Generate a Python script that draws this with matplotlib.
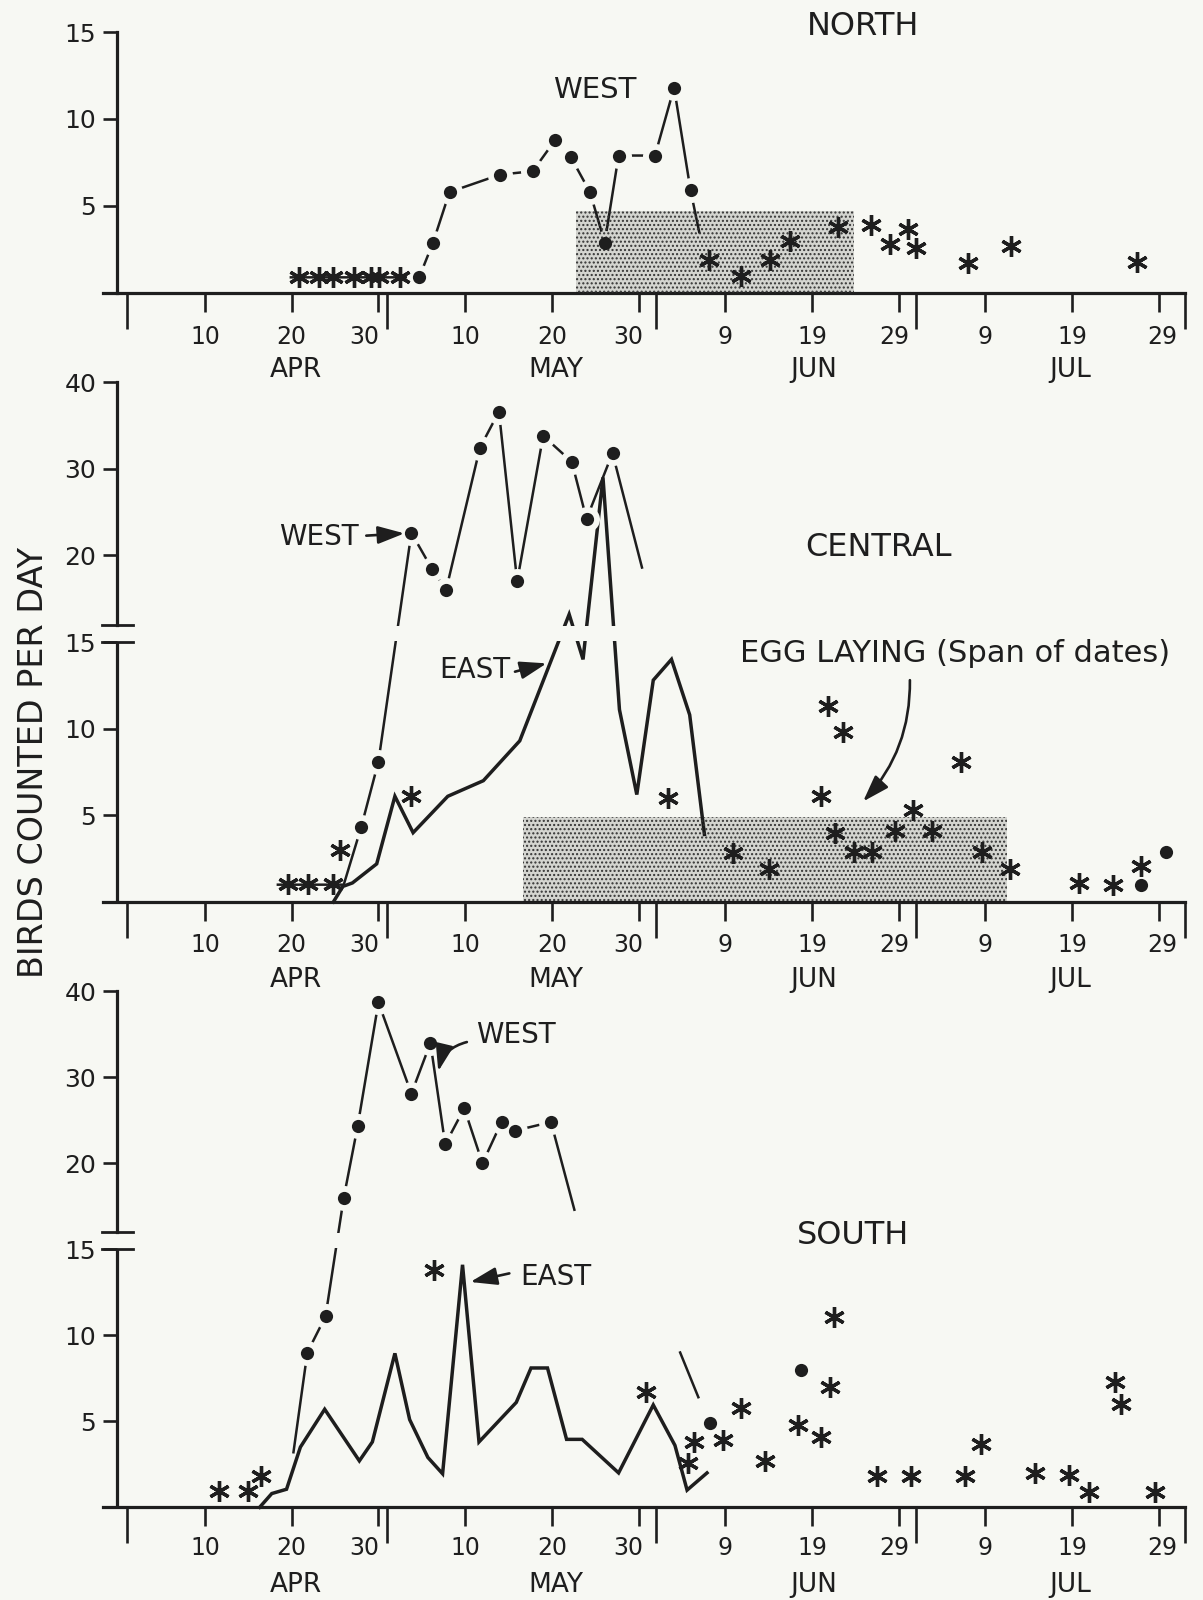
import numpy as np
import matplotlib.pyplot as plt

# day number on the x axis: Apr 1 = 1, May 1 = 31, Jun 1 = 62, Jul 1 = 92, Aug 1 = 123

#---------NORTH----------#
north_west_day = [19.9, 34.7, 36.3, 38.2, 44.0, 47.8, 50.4, 52.2, 54.4, 56.1, 57.7, 61.9, 64.1, 66.0, 67.0]
north_west_val = [0.9, 0.9, 2.9, 5.8, 6.8, 7.0, 8.8, 7.8, 5.8, 2.9, 7.9, 7.9, 11.8, 5.9, 3.5]
north_west_dot = [0, 1, 1, 1, 1, 1, 1, 1, 1, 1, 1, 1, 1, 1, 0]
north_star_day = [20.8, 23.1, 24.8, 27.2, 29.1, 30.1, 32.5, 68.1, 71.8, 75.2, 77.5, 83.0,
                  86.8, 89.0, 91.1, 92.0, 98.0, 103.0, 117.5]
north_star_val = [0.9, 0.9, 0.9, 0.9, 0.9, 0.9, 0.9, 1.9, 1.0, 1.9, 3.0, 3.8,
                  3.9, 2.8, 3.7, 2.6, 1.7, 2.7, 1.8]
north_egg = (52.8, 84.9, 4.7)   # first day, last day, top

#---------CENTRAL----------#
central_west_day = [18.4, 26.0, 28.0, 30.0, 33.8, 36.2, 37.8, 41.7, 43.9, 46.0, 49.0, 52.3, 54.0, 57.0, 60.4]
central_west_val = [1.0, 1.0, 4.3, 8.1, 22.6, 19.2, 18.0, 32.4, 36.6, 18.5, 33.8, 30.8, 24.2, 31.8, 19.3]
central_west_dot = [0, 0, 1, 1, 1, 1, 1, 1, 1, 1, 1, 1, 1, 1, 0]
central_east_day = [24.8, 25.9, 27.0, 29.8, 31.9, 34.0, 38.0, 42.1, 46.3, 52.0, 53.6, 55.9,
                    57.8, 59.8, 61.7, 63.8, 65.9, 67.6]
central_east_val = [0.0, 0.9, 1.1, 2.2, 6.1, 4.0, 6.1, 7.0, 9.3, 16.6, 14.0, 29.0,
                    11.1, 6.2, 12.8, 14.0, 10.8, 3.9]
central_star_day = [19.6, 21.9, 24.8, 25.6, 33.8, 63.4, 70.9, 75.0, 81.1, 81.9, 83.6, 82.7,
                    84.9, 86.9, 89.6, 91.7, 93.9, 97.2, 99.6, 102.9, 110.8, 114.7, 118.0]
central_star_val = [1.05, 1.05, 1.05, 3.0, 6.1, 6.0, 2.8, 1.9, 6.1, 11.3, 9.8, 4.0,
                    2.9, 2.9, 4.1, 5.3, 4.1, 8.1, 2.9, 1.9, 1.1, 1.0, 2.1]
central_dot_day = [118.0, 120.8]
central_dot_val = [1.0, 2.9]
central_egg = (46.7, 102.5, 4.9)

#---------SOUTH----------#
south_west_day = [20.2, 21.8, 23.9, 26.0, 27.6, 30.0, 33.8, 36.0, 37.7, 39.9, 42.0, 44.2,
                  45.8, 49.9, 52.6, np.nan, 64.8, 66.9]
south_west_val = [3.2, 9.0, 11.1, 18.0, 24.3, 38.7, 28.1, 34.0, 22.2, 26.4, 20.0, 24.8,
                  23.8, 24.8, 17.3, np.nan, 9.0, 6.4]
south_west_dot = [0, 1, 1, 1, 1, 1, 1, 1, 1, 1, 1, 1, 1, 1, 0, 0, 0, 0]
south_east_day = [16.3, 17.7, 19.4, 21.0, 23.8, 27.8, 29.3, 31.9, 33.6, 35.7, 37.4, 39.7,
                  41.6, 45.9, 47.6, 49.5, 51.7, 53.5, 57.7, 61.7, 64.2, 65.6, 67.9]
south_east_val = [0.0, 0.8, 1.05, 3.5, 5.7, 2.7, 3.8, 8.95, 5.1, 2.9, 1.95, 14.1,
                  3.8, 6.1, 8.1, 8.1, 3.95, 3.95, 2.0, 5.95, 3.6, 1.0, 2.0]
south_star_day = [11.6, 14.9, 16.5, 36.4, 60.9, 65.7, 66.4, 69.7, 71.8, 74.6, 78.4, 81.1,
                  82.1, 82.5, 87.5, 91.4, 97.7, 99.5, 105.7, 109.7, 111.9, 115.0, 115.6, 119.6]
south_star_val = [0.97, 0.97, 1.8, 13.8, 6.7, 2.6, 3.8, 3.9, 5.8, 2.7, 4.8, 4.1,
                  7.0, 11.05, 1.8, 1.8, 1.8, 3.7, 2.0, 1.9, 0.9, 7.3, 6.0, 0.9]
south_dot_day = [68.2, 78.7]
south_dot_val = [4.9, 8.0]

# x axis labels
day_ticks = [10, 20, 30, 40, 50, 60, 70, 80, 90, 100, 110, 120]
month_ticks = [1, 31, 62, 92, 123]
day_labels = ['10', '20', '30', '10', '20', '30', '9', '19', '29', '9', '19', '29']
day_label_pos = [10, 20, 28.4, 40, 50, 58.8, 70, 80, 89.5, 100, 110, 120.4]
months = ['APR', 'MAY', 'JUN', 'JUL']
month_pos = [20.5, 50.5, 80.2, 109.8]

bg = '#f7f8f3'
ink = '#1e1e1e'
plt.rcParams['font.family'] = ['DejaVu Sans']

W, H = 1203, 1600
px0, kx = 127.0, 8.67       # pixel of Apr 1, pixels per day
xlo, xhi = -3.0, 124.8
yax = -0.15                 # where the y axis sits


# scale above 20 is squeezed to half (broken axis)
def fwd(v):
    v = np.asarray(v, dtype=float)
    return np.where(v <= 20, v, 20 + (v - 20) / 2)


def inv(s):
    s = np.asarray(s, dtype=float)
    return np.where(s <= 20, s, 20 + 2 * (s - 20))


fig = plt.figure(figsize=(W / 100, H / 100), dpi=100, facecolor=bg)


def add_panel(y_zero, ky, s_top, s_bot=-1.0):
    left = px0 + (xlo - 1) * kx
    right = px0 + (xhi - 1) * kx
    top = y_zero - s_top * ky
    bot = y_zero - s_bot * ky
    return fig.add_axes([left / W, 1 - bot / H, (right - left) / W, (bot - top) / H])


def setup(ax, broken, num_y, mon_y):
    ax.patch.set_alpha(0)
    ax.set_xlim(xlo, xhi)
    ax.spines['top'].set_visible(False)
    ax.spines['right'].set_visible(False)
    for s in ['bottom', 'left']:
        ax.spines[s].set_linewidth(2.3)
        ax.spines[s].set_color(ink)
    ax.spines['bottom'].set_position(('data', 0))
    ax.spines['bottom'].set_bounds(-1.8, 123)
    ax.spines['left'].set_position(('data', yax))
    ax.set_xticks(day_ticks)
    ax.set_xticks(month_ticks, minor=True)
    ax.tick_params(axis='x', which='major', length=13.5, width=1.9, color=ink, labelbottom=False)
    ax.tick_params(axis='x', which='minor', length=26, width=1.9, color=ink, labelbottom=False)
    ax.tick_params(axis='y', length=10, width=1.9, color=ink, pad=5, labelsize=18, labelcolor=ink)
    if broken:
        ax.set_yticks([5, 10, 15, 20, 30, 40])
        ax.spines['left'].set_bounds(16, 40)
        ax.plot([yax, yax], [0, 15], color=ink, lw=2.3, solid_capstyle='butt', clip_on=False, zorder=3)
        for b in [15, 16]:
            ax.plot([-1.9, 1.7], [b, b], color=ink, lw=2.0, clip_on=False, zorder=3)
        # gap in the lines across the break
        ax.axhspan(15.08, 15.92, color=bg, lw=0, zorder=2.5)
    else:
        ax.set_yticks([5, 10, 15])
        ax.spines['left'].set_bounds(0, 15)
    for lab, p in zip(day_labels, day_label_pos):
        ax.text(p, num_y, lab, ha='center', va='center', fontsize=17, color=ink, clip_on=False)
    for lab, p in zip(months, month_pos):
        ax.text(p, mon_y, lab, ha='center', va='center', fontsize=19, color=ink, clip_on=False)


def west(ax, day, val, dot):
    ax.plot(day, val, color=ink, lw=1.8, zorder=2)
    d = [x for x, f in zip(day, dot) if f]
    v = [y for y, f in zip(val, dot) if f]
    ax.plot(d, v, 'o', ms=18, color=bg, mew=0, zorder=3)
    ax.plot(d, v, 'o', ms=9.5, color=ink, mew=0, zorder=4)


def east(ax, day, val):
    ax.plot(day, val, color=ink, lw=2.5, solid_joinstyle='miter', zorder=2)


def stars(ax, day, val):
    ax.plot(day, val, ls='none', marker=(6, 2, 0), ms=15, mew=2.4, color=ink, zorder=4)


def egg(ax, span):
    a, b, top = span
    ax.fill_between([a, b], 0, top, facecolor=(0, 0, 0, 0.14), edgecolor='#333333',
                    hatch='....', lw=0, zorder=3.5)


def arrow(ax, start, end, rad=0.0):
    ax.annotate('', xy=end, xytext=start,
                arrowprops=dict(arrowstyle='-|>,head_length=0.9,head_width=0.3',
                                connectionstyle=f'arc3,rad={rad}', color=ink, lw=1.9,
                                mutation_scale=18, shrinkA=0, shrinkB=0), zorder=5)


# North
ax1 = add_panel(293, 17.4, 16.2)
ax1.set_ylim(-1, 16.2)
setup(ax1, False, -2.53, -4.43)
egg(ax1, north_egg)
west(ax1, north_west_day, north_west_val, north_west_dot)
stars(ax1, north_star_day, north_star_val)
ax1.text(85.9, 15.3, 'NORTH', ha='center', va='center', fontsize=23, color=ink)
ax1.text(54.9, 11.67, 'WEST', ha='center', va='center', fontsize=21, color=ink)

# Central
ax2 = add_panel(902, 17.33, 31)
ax2.set_yscale('function', functions=(fwd, inv))
ax2.set_ylim(-1, 42)
setup(ax2, True, -2.48, -4.5)
egg(ax2, central_egg)
east(ax2, central_east_day, central_east_val)
west(ax2, central_west_day, central_west_val, central_west_dot)
stars(ax2, central_star_day, central_star_val)
ax2.plot(central_dot_day, central_dot_val, 'o', ms=9.5, color=ink, mew=0, zorder=4)
ax2.text(87.7, 20.86, 'CENTRAL', ha='center', va='center', fontsize=23, color=ink)
ax2.text(23.1, 22.16, 'WEST', ha='center', va='center', fontsize=20, color=ink, zorder=5)
arrow(ax2, (28.6, 22.28), (33.0, 22.54))
ax2.text(41.1, 13.39, 'EAST', ha='center', va='center', fontsize=20, color=ink, zorder=5)
arrow(ax2, (45.75, 13.29), (49.4, 13.77))
ax2.text(96.5, 14.35, 'EGG LAYING (Span of dates)', ha='center', va='center',
         fontsize=22, color=ink, zorder=5)
arrow(ax2, (91.3, 12.8), (85.9, 5.8), rad=-0.2)

# South
ax3 = add_panel(1507.3, 17.2, 31)
ax3.set_yscale('function', functions=(fwd, inv))
ax3.set_ylim(-1, 42)
setup(ax3, True, -2.37, -4.52)
east(ax3, south_east_day, south_east_val)
west(ax3, south_west_day, south_west_val, south_west_dot)
stars(ax3, south_star_day, south_star_val)
ax3.plot(south_dot_day, south_dot_val, 'o', ms=9.5, color=ink, mew=0, zorder=4)
ax3.text(84.7, 15.83, 'SOUTH', ha='center', va='center', fontsize=23, color=ink, zorder=5)
ax3.text(45.9, 34.9, 'WEST', ha='center', va='center', fontsize=20, color=ink)
arrow(ax3, (40.2, 34.1), (36.9, 30.7), rad=0.3)
ax3.text(50.5, 13.4, 'EAST', ha='center', va='center', fontsize=20, color=ink)
arrow(ax3, (45.1, 13.6), (40.6, 13.1))

fig.text(34 / W, 1 - 763 / H, 'BIRDS COUNTED PER DAY', rotation=90, ha='center', va='center',
         fontsize=24, color=ink)

fig.savefig('out.png', dpi=100, facecolor=bg)
